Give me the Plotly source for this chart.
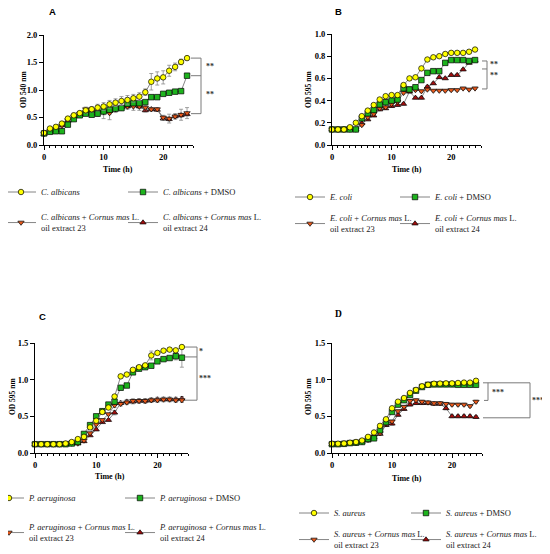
"""
Growth curves of four microorganisms with Cornus mas L. oil extracts.
Four panels (A-D), each with its own legend block and significance brackets.
"""
import plotly.graph_objects as go

# the page body adds an 8 px margin, so the figure is drawn 8 px smaller
# and every layout pixel below is given in the 550x554 picture's frame
PAGE_W, PAGE_H, OFF = 550, 554, 8
W, H = PAGE_W - OFF, PAGE_H - OFF
SERIF = "Liberation Serif"

hours = list(range(25))

# A - C. albicans (OD 540 nm)
a_ctrl = [0.22, 0.30, 0.33, 0.39, 0.48, 0.54, 0.58, 0.63, 0.65, 0.68, 0.70, 0.74, 0.77,
          0.80, 0.82, 0.85, 0.88, 0.96, 1.15, 1.21, 1.23, 1.35, 1.42, 1.51, 1.58]
a_ctrl_err = [0.02, 0.03, 0.03, 0.03, 0.04, 0.04, 0.04, 0.05, 0.05, 0.06, 0.07, 0.07, 0.07,
              0.08, 0.08, 0.07, 0.07, 0.06, 0.15, 0.12, 0.12, 0.10, 0.07, 0.05, 0.03]
a_dmso = [0.21, 0.24, 0.25, 0.25, 0.37, 0.47, 0.54, 0.57, 0.55, 0.57, 0.61, 0.64, 0.66,
          0.67, 0.75, 0.76, 0.76, 0.78, 0.87, 0.87, 0.93, 0.95, 0.97, 0.98, 1.26]
a_dmso_err = [0.02] * 25
a_ext23 = [0.20, 0.25, 0.28, 0.35, 0.45, 0.52, 0.57, 0.65, 0.62, 0.60, 0.60, 0.58, 0.65,
           0.68, 0.70, 0.70, 0.70, 0.68, 0.65, 0.65, 0.50, 0.48, 0.52, 0.55, 0.58]
a_ext23_err = [0.02, 0.02, 0.02, 0.02, 0.03, 0.03, 0.03, 0.04, 0.05, 0.08, 0.12, 0.12, 0.06,
               0.05, 0.05, 0.07, 0.07, 0.04, 0.03, 0.03, 0.04, 0.08, 0.05, 0.10, 0.10]
a_ext24 = [0.20, 0.24, 0.27, 0.36, 0.44, 0.52, 0.56, 0.64, 0.63, 0.62, 0.61, 0.62, 0.66,
           0.68, 0.70, 0.72, 0.70, 0.63, 0.65, 0.64, 0.48, 0.47, 0.52, 0.54, 0.56]
a_ext24_err = [0.02] * 10 + [0.06, 0.06] + [0.03] * 13

# B - E. coli (OD 595 nm)
b_ctrl = [0.14, 0.14, 0.14, 0.16, 0.20, 0.26, 0.31, 0.36, 0.41, 0.44, 0.45, 0.45, 0.54,
          0.60, 0.61, 0.69, 0.77, 0.79, 0.80, 0.82, 0.83, 0.83, 0.83, 0.84, 0.86]
b_dmso = [0.14, 0.14, 0.14, 0.14, 0.14, 0.24, 0.285, 0.315, 0.365, 0.385, 0.40, 0.41, 0.51,
          0.50, 0.52, 0.585, 0.65, 0.665, 0.665, 0.74, 0.765, 0.765, 0.765, 0.757, 0.765]
b_ext23 = [0.14, 0.14, 0.14, 0.14, 0.14, 0.18, 0.25, 0.28, 0.33, 0.34, 0.37, 0.39, 0.47,
           0.51, 0.495, 0.485, 0.50, 0.49, 0.49, 0.49, 0.495, 0.495, 0.51, 0.50, 0.51]
b_ext24 = [0.14, 0.14, 0.14, 0.14, 0.14, 0.195, 0.23, 0.265, 0.32, 0.33, 0.35, 0.36, 0.37,
           0.48, 0.425, 0.425, 0.525, 0.555, 0.61, 0.60, 0.63, 0.63, 0.68, 0.74, 0.76]
b_err = [0.01] * 25

# C - P. aeruginosa (OD 595 nm)
c_ctrl = [0.12, 0.12, 0.12, 0.12, 0.12, 0.13, 0.15, 0.19, 0.22, 0.35, 0.44, 0.56, 0.62,
          0.77, 1.045, 1.07, 1.135, 1.17, 1.195, 1.33, 1.365, 1.395, 1.41, 1.40, 1.445]
c_ctrl_err = [0.01] * 18 + [0.02, 0.06, 0.02, 0.02, 0.02, 0.02, 0.02]
c_dmso = [0.12, 0.12, 0.12, 0.12, 0.12, 0.12, 0.13, 0.15, 0.26, 0.38, 0.50, 0.57, 0.66,
          0.70, 0.89, 0.92, 1.10, 1.15, 1.17, 1.19, 1.25, 1.28, 1.295, 1.32, 1.30]
c_dmso_err = [0.01] * 22 + [0.02, 0.05, 0.13]
c_ext23 = [0.12, 0.12, 0.12, 0.12, 0.12, 0.12, 0.13, 0.13, 0.17, 0.27, 0.39, 0.45, 0.53,
           0.65, 0.67, 0.69, 0.71, 0.71, 0.71, 0.72, 0.72, 0.73, 0.73, 0.72, 0.72]
c_ext24 = [0.12, 0.12, 0.12, 0.12, 0.12, 0.12, 0.13, 0.13, 0.16, 0.24, 0.32, 0.42, 0.45,
           0.55, 0.68, 0.70, 0.70, 0.71, 0.71, 0.72, 0.73, 0.73, 0.73, 0.73, 0.74]
c_ext_err = [0.01] * 13 + [0.03] * 12

# D - S. aureus (OD 595 nm)
d_ctrl = [0.127, 0.127, 0.13, 0.14, 0.15, 0.17, 0.22, 0.28, 0.37, 0.46, 0.61, 0.70, 0.75,
          0.82, 0.86, 0.91, 0.93, 0.945, 0.947, 0.95, 0.95, 0.955, 0.96, 0.96, 0.985]
d_dmso = [0.12, 0.12, 0.125, 0.135, 0.14, 0.15, 0.19, 0.20, 0.31, 0.42, 0.56, 0.66, 0.72,
          0.79, 0.85, 0.90, 0.93, 0.935, 0.935, 0.935, 0.935, 0.93, 0.93, 0.93, 0.93]
d_ext23 = [0.12, 0.12, 0.125, 0.135, 0.14, 0.15, 0.18, 0.22, 0.27, 0.40, 0.43, 0.57, 0.63,
           0.71, 0.72, 0.70, 0.69, 0.68, 0.68, 0.67, 0.66, 0.66, 0.66, 0.64, 0.70]
d_ext24 = [0.12, 0.12, 0.125, 0.135, 0.14, 0.15, 0.17, 0.21, 0.26, 0.38, 0.40, 0.52, 0.60,
           0.66, 0.68, 0.68, 0.68, 0.67, 0.67, 0.61, 0.50, 0.50, 0.50, 0.50, 0.49]
d_err = [0.01] * 8 + [0.02] * 17

species = ["C. albicans", "E. coli", "P. aeruginosa", "S. aureus"]
letters = ["A", "B", "C", "D"]
y_titles = ["OD 540 nm", "OD 595 nm", "OD 595 nm", "OD 595 nm"]
y_max = [2.0, 1.0, 1.5, 1.5]
y_step = [0.5, 0.2, 0.5, 0.5]

# significance brackets: levels (OD) joined by the bracket, and stars between them
bracket_levels = [[1.58, 1.26, 0.57], [0.757, 0.685, 0.505], [1.445, 1.31, 0.72], [0.957, 0.717, 0.48]]
star_labels = [["**", "**"], ["**", "**"], ["*", "***"], ["***", "***"]]
star_levels = [[1.42, 0.92], [0.725, 0.625], [1.38, 1.01], [0.83, 0.71]]

series = [
    [(a_ctrl, a_ctrl_err), (a_dmso, a_dmso_err), (a_ext23, a_ext23_err), (a_ext24, a_ext24_err)],
    [(b_ctrl, b_err), (b_dmso, b_err), (b_ext23, b_err), (b_ext24, b_err)],
    [(c_ctrl, c_ctrl_err), (c_dmso, c_dmso_err), (c_ext23, c_ext_err), (c_ext24, c_ext_err)],
    [(d_ctrl, d_err), (d_dmso, d_err), (d_ext23, d_err), (d_ext24, d_err)],
]

# ---- layout (pixels in the 550x554 picture) ----
# plot box: left, right, top, bottom
boxes = [(44, 193, 35, 145), (332, 481, 34, 145), (35, 188, 343, 453), (332, 482, 343, 453)]
letter_pos = [(47, 12), (333, 12), (37, 316), (333, 314)]
xtitle_pos = [(118, 169), (407, 169), (110, 477), (407, 478)]
ytitle_pos = [(23, 90), (308, 90), (12, 397), (308, 397)]
# legend: marker x of column 1 and 2, centre y of row 1 and 2
legend_cols = [(24, 146), (313, 418), (12, 143), (317, 429)]
legend_rows = [(192, 223), (197, 224), (498, 533), (513, 540)]
LAST_W = 130  # width kept for the text of the right-hand legend column

styles = [
    dict(symbol="circle", color="#ffff00"),
    dict(symbol="square", color="#1db31d"),
    dict(symbol="triangle-down", color="#ea5a1c"),
    dict(symbol="triangle-up", color="#a30e0e"),
]


def px(x):
    return (x - OFF) / W


def py(y):
    return 1 - (y - OFF) / H


def val_y(i, v):
    left, right, top, bottom = boxes[i]
    return bottom - v / y_max[i] * (bottom - top)


def legend_names(sp):
    tail = f"<i>{sp}</i> + <i>Cornus mas</i> L.<br>oil extract "
    return [f"<i>{sp}</i>", f"<i>{sp}</i> + DMSO", tail + "23", tail + "24"]


fig = go.Figure()
shapes = []
annotations = []
layout = {}

for i in range(4):
    s = "" if i == 0 else str(i + 1)
    left, right, top, bottom = boxes[i]
    names = legend_names(species[i])
    leg_ids = ["legend" + ("" if i == 0 else str(2 * i + 1)), "legend" + str(2 * i + 2)]
    m1, m2 = legend_cols[i]
    first_w = (m2 - m1) - 45

    # draw extracts first so the control sits on top
    for k in [3, 2, 1, 0]:
        vals, err = series[i][k]
        st = styles[k]
        fig.add_trace(go.Scatter(
            x=hours, y=vals, mode="lines+markers", name=names[k],
            xaxis="x" + s, yaxis="y" + s,
            legend=leg_ids[0] if k < 2 else leg_ids[1], legendrank=k + 1,
            legendwidth=first_w if k % 2 == 0 else LAST_W,
            line=dict(color="#666666", width=0.8),
            marker=dict(symbol=st["symbol"], size=5.5, color=st["color"],
                        line=dict(color="black", width=0.7)),
            error_y=dict(type="data", array=err, visible=True, color="#8a8a8a",
                         thickness=0.8, width=2),
            cliponaxis=False, hoverinfo="x+y",
        ))

    layout["xaxis" + s] = dict(
        domain=[px(left), px(right)], range=[0, 25], anchor="y" + s,
        showline=True, linecolor="black", linewidth=1, ticks="outside", ticklen=4,
        tickwidth=1, tickcolor="black", tick0=0, dtick=10,
        minor=dict(ticks="outside", ticklen=2, tickwidth=1, tickcolor="black", dtick=1, tick0=0),
        tickfont=dict(family=SERIF, size=8.5, color="black", weight="bold"),
        showgrid=False, zeroline=False, fixedrange=True,
    )
    layout["yaxis" + s] = dict(
        domain=[py(bottom), py(top)], range=[0, y_max[i]], anchor="x" + s,
        showline=True, linecolor="black", linewidth=1, ticks="outside", ticklen=4,
        tickwidth=1, tickcolor="black", tick0=0, dtick=y_step[i], tickformat=".1f",
        tickfont=dict(family=SERIF, size=8.5, color="black", weight="bold"),
        showgrid=False, zeroline=False, fixedrange=True,
    )

    # legends: one horizontal legend per row; a left edge outside the figure
    # is reached by anchoring the legend on its right edge instead
    lx0 = m1 - 23
    if lx0 >= OFF:
        leg_x, leg_anchor = px(lx0), "left"
    else:
        leg_x, leg_anchor = px(lx0 + 90 + first_w + LAST_W), "right"
    for r in range(2):
        layout[leg_ids[r]] = dict(
            orientation="h", x=leg_x, xanchor=leg_anchor,
            y=py(legend_rows[i][r]), yanchor="middle",
            font=dict(family=SERIF, size=8.5, color="#222222"),
            bgcolor="rgba(0,0,0,0)", borderwidth=0, valign="middle",
        )

    # panel letter and axis titles
    lx, ly = letter_pos[i]
    annotations.append(dict(
        text=letters[i], x=px(lx), y=py(ly), xref="paper", yref="paper",
        showarrow=False, xanchor="left", yanchor="middle",
        font=dict(family=SERIF if i == 3 else "Liberation Sans", size=9.5,
                  color="black", weight="bold"),
    ))
    tx, ty = xtitle_pos[i]
    annotations.append(dict(
        text="Time (h)", x=px(tx), y=py(ty), xref="paper", yref="paper",
        showarrow=False, xanchor="center", yanchor="middle",
        font=dict(family=SERIF, size=8, color="black", weight="bold"),
    ))
    yx, yy = ytitle_pos[i]
    annotations.append(dict(
        text=y_titles[i], x=px(yx), y=py(yy), xref="paper", yref="paper",
        showarrow=False, textangle=-90, xanchor="center", yanchor="middle",
        font=dict(family=SERIF, size=7.5, color="black", weight="bold"),
    ))

# ---- significance brackets ----
bline = dict(color="#7a7a7a", width=1)


def seg(x0, y0, x1, y1):
    shapes.append(dict(type="line", xref="paper", yref="paper",
                       x0=px(x0), y0=py(y0), x1=px(x1), y1=py(y1), line=bline))


def stars(i, x, text, v):
    annotations.append(dict(
        text=text, x=px(x), y=py(val_y(i, v)), xref="paper", yref="paper",
        showarrow=False, xanchor="center", yanchor="middle",
        font=dict(family=SERIF, size=8, color="#333333", weight="bold"),
    ))


# A, B, C: one bracket with three arms
for i, (x0, x1, sx) in zip([0, 1, 2], [(191, 201, 209.5), (482, 487, 494), (185, 197, 205)]):
    lv = bracket_levels[i]
    for v in lv:
        seg(x0, val_y(i, v), x1, val_y(i, v))
    seg(x1, val_y(i, lv[0]), x1, val_y(i, lv[-1]))
    for txt, v in zip(star_labels[i], star_levels[i]):
        stars(i, sx if txt != "*" else 201, txt, v)

# D: nested brackets
lv = bracket_levels[3]
seg(483, val_y(3, lv[0]), 530, val_y(3, lv[0]))
seg(488, val_y(3, lv[0]), 488, val_y(3, lv[1]))
seg(484, val_y(3, lv[1]), 488, val_y(3, lv[1]))
seg(530, val_y(3, lv[0]), 530, val_y(3, lv[2]))
seg(483, val_y(3, lv[2]), 530, val_y(3, lv[2]))
stars(3, 498, star_labels[3][0], star_levels[3][0])
stars(3, 538, star_labels[3][1], star_levels[3][1])

fig.update_layout(
    width=W, height=H,
    margin=dict(l=0, r=0, t=0, b=0, autoexpand=False),
    plot_bgcolor="white", paper_bgcolor="white",
    showlegend=True, shapes=shapes, annotations=annotations,
    **layout,
)

fig.write_html("out.html")
